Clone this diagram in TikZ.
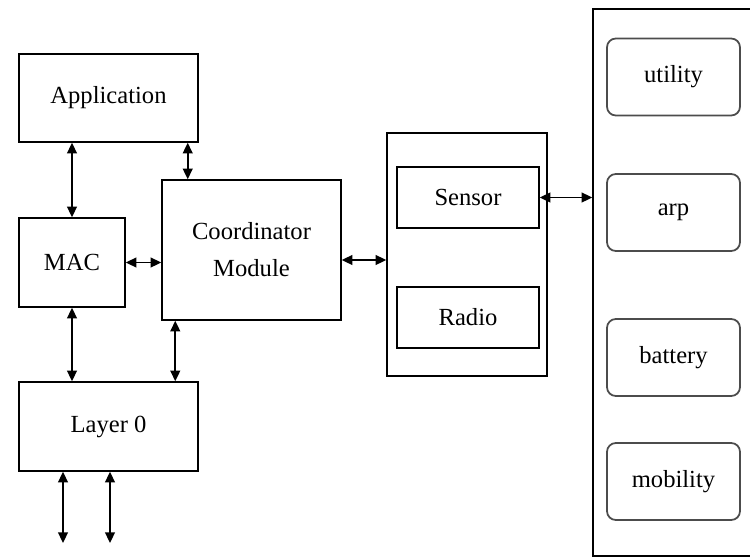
\documentclass[tikz,border=0pt]{standalone}
\usepackage{fontspec}
\setmainfont{Liberation Serif}
\usetikzlibrary{arrows.meta}
\usetikzlibrary{calc}

\tikzset{
	blk/.style = {draw, line width = 0.85pt, inner sep = 0pt, align = center, font = \fontsize{14}{21}\selectfont},
	rblk/.style = {draw = black!70, line width = 1pt, rounded corners = 5pt, inner sep = 0pt, minimum width = 2.66cm, minimum height = 1.54cm, font = \fontsize{14}{21}\selectfont},
	arr/.style = {{Triangle[length = 6pt, width = 5.5pt]}-{Triangle[length = 6pt, width = 5.5pt]}, line width = 1pt}
}

\begin{document}
\begin{tikzpicture}[x = 0.02cm, y = -0.02cm]
	\useasboundingbox (0,0) rectangle (750,558);
	
	\node [blk, minimum width = 3.58cm, minimum height = 1.76cm] (app) at (108.5,98) {Application};
	\node [blk, minimum width = 2.12cm, minimum height = 1.78cm] (mac) at (72,262.5) {MAC};
	\node [blk, minimum width = 3.58cm, minimum height = 2.8cm] (coord) at (251.5,250) {Coordinator\\Module};
	\node [blk, minimum width = 3.58cm, minimum height = 1.78cm] (layer) at (108.5,426.5) {Layer 0};
	
	\node [blk, minimum width = 3.2cm, minimum height = 4.86cm] (mid) at (467,254.5) {};
	\node [blk, minimum width = 2.84cm, minimum height = 1.22cm] (sensor) at (468,197.5) {Sensor};
	\node [blk, minimum width = 2.84cm, minimum height = 1.22cm] (radio) at (468,317.5) {Radio};
	
	\node [blk, minimum width = 3.54cm, minimum height = 10.94cm] (attrs) at (681.5,282.5) {};
	\foreach \nm/\txt/\y in {util/utility/77, arp/arp/212.5, bat/battery/357.5, mob/mobility/481.5}
		\node [rblk] (\nm) at (673.5,\y) {\txt};
	
	\coordinate (ac) at ($(app.south east)+(-11,0)$);
	\coordinate (cl) at ($(coord.south west)+(14,0)$);
	\coordinate (cm) at ($(coord.east)+(0,10)$);
	\coordinate (l0a) at (63,543);
	\coordinate (l0b) at (110,543);
	
	\draw [arr] (app.south -| mac.north) -- (mac.north);
	\draw [arr] (ac) -- (ac |- coord.north);
	\draw [arr] (mac.east) -- (mac.east -| coord.west);
	\draw [arr] (mac.south) -- (mac.south |- layer.north);
	\draw [arr] (cl) -- (cl |- layer.north);
	\draw [arr] (cm) -- (cm -| mid.west);
	\draw [arr] (sensor.east) -- (sensor.east -| attrs.west);
	\draw [arr] (l0a |- layer.south) -- (l0a);
	\draw [arr] (l0b |- layer.south) -- (l0b);
\end{tikzpicture}
\end{document}
